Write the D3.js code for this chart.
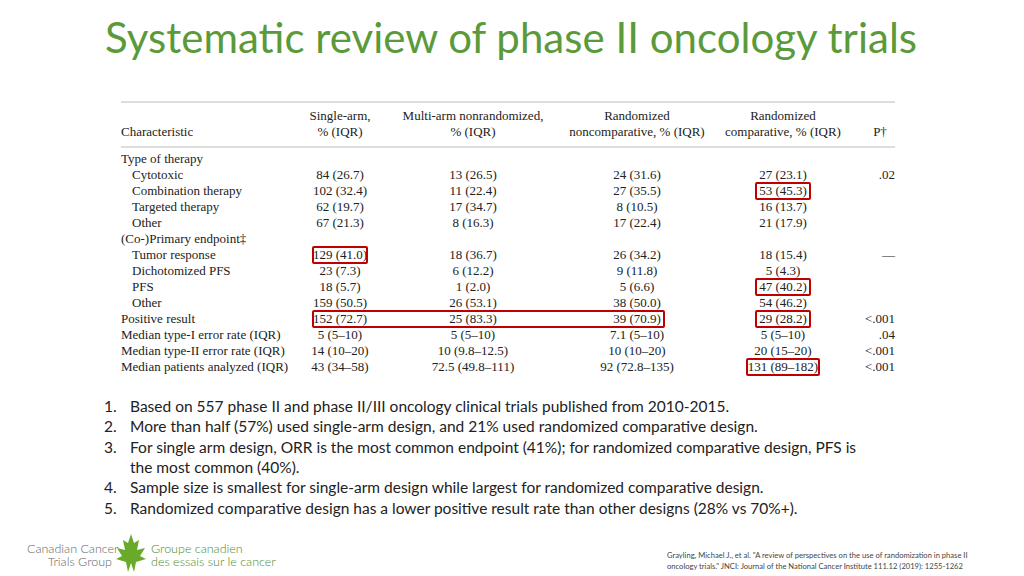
<!DOCTYPE html>
<html lang="en">
<head>
<meta charset="UTF-8">
<title>Systematic review of phase II oncology trials</title>
<style>
  body { margin: 0; background: #fff; }
  svg { display: block; }
  .tbl { font-family: "Liberation Serif", serif; font-size: 13px; fill: #222; }
  .slide { font-family: Lato, "Noto Sans", sans-serif; }
</style>
</head>
<body>
<div id="chart"></div>
<script src="https://d3js.org/d3.v7.min.js"></script>
<script>
// table content
const headers = [
  ["Single-arm,", "% (IQR)"],
  ["Multi-arm nonrandomized,", "% (IQR)"],
  ["Randomized", "noncomparative, % (IQR)"],
  ["Randomized", "comparative, % (IQR)"]
];
const rowLabels = [
  "Type of therapy", "Cytotoxic", "Combination therapy", "Targeted therapy", "Other",
  "(Co-)Primary endpoint‡", "Tumor response", "Dichotomized PFS", "PFS", "Other",
  "Positive result", "Median type-I error rate (IQR)", "Median type-II error rate (IQR)",
  "Median patients analyzed (IQR)"
];
const indented = [false, true, true, true, true, false, true, true, true, true, false, false, false, false];
const singleArm = ["", "84 (26.7)", "102 (32.4)", "62 (19.7)", "67 (21.3)", "", "129 (41.0)", "23 (7.3)", "18 (5.7)", "159 (50.5)", "152 (72.7)", "5 (5–10)", "14 (10–20)", "43 (34–58)"];
const multiArm = ["", "13 (26.5)", "11 (22.4)", "17 (34.7)", "8 (16.3)", "", "18 (36.7)", "6 (12.2)", "1 (2.0)", "26 (53.1)", "25 (83.3)", "5 (5–10)", "10 (9.8–12.5)", "72.5 (49.8–111)"];
const randNoncomp = ["", "24 (31.6)", "27 (35.5)", "8 (10.5)", "17 (22.4)", "", "26 (34.2)", "9 (11.8)", "5 (6.6)", "38 (50.0)", "39 (70.9)", "7.1 (5–10)", "10 (10–20)", "92 (72.8–135)"];
const randComp = ["", "27 (23.1)", "53 (45.3)", "16 (13.7)", "21 (17.9)", "", "18 (15.4)", "5 (4.3)", "47 (40.2)", "54 (46.2)", "29 (28.2)", "5 (5–10)", "20 (15–20)", "131 (89–182)"];
const pValues = ["", ".02", "", "", "", "", "—", "", "", "", "<.001", ".04", "<.001", "<.001"];
// highlighted cells: [row, firstCol, lastCol]
const highlights = [[2, 3, 3], [6, 0, 0], [8, 3, 3], [10, 0, 2], [10, 3, 3], [13, 3, 3]];

const bullets = [
  ["Based on 557 phase II and phase II/III oncology clinical trials published from 2010-2015."],
  ["More than half  (57%) used single-arm design, and 21% used randomized comparative design."],
  ["For single arm design, ORR is the most common endpoint (41%); for randomized comparative design, PFS is", "the most common (40%)."],
  ["Sample size is smallest for single-arm design while largest for randomized comparative design."],
  ["Randomized comparative design has a lower positive result rate than other designs (28% vs 70%+)."]
];

const width = 1024, height = 576;
const svg = d3.select("#chart").append("svg").attr("width", width).attr("height", height);

svg.append("text").attr("class", "slide").attr("x", 105).attr("y", 53)
  .attr("font-size", 42).attr("fill", "#5b9a3b").attr("textLength", 812)
  .text("Systematic review of phase II oncology trials");

// table
const y = d3.scalePoint().domain(d3.range(rowLabels.length)).range([159, 367]);
const x = d3.scaleOrdinal().domain([0, 1, 2, 3]).range([340, 473, 637, 783]);
const cols = [singleArm, multiArm, randNoncomp, randComp];

const t = svg.append("g").attr("class", "tbl");
t.append("line").attr("x1", 121).attr("x2", 895).attr("y1", 102).attr("y2", 102).attr("stroke", "#bbb");
t.append("line").attr("x1", 121).attr("x2", 895).attr("y1", 147).attr("y2", 147).attr("stroke", "#bbb");

t.append("text").attr("x", 121).attr("y", 136).text("Characteristic");
headers.forEach((h, i) => {
  h.forEach((s, j) => t.append("text").attr("x", x(i)).attr("y", 120 + j * 16)
    .attr("text-anchor", "middle").text(s));
});
t.append("text").attr("x", 880).attr("y", 136).attr("text-anchor", "middle").text("P†");

t.selectAll(".lbl").data(rowLabels).join("text")
  .attr("x", (d, i) => indented[i] ? 132 : 121)
  .attr("y", (d, i) => y(i) + 4).text(d => d);

cols.forEach((col, c) => {
  t.selectAll(".c" + c).data(col).join("text")
    .attr("x", x(c)).attr("y", (d, i) => y(i) + 4)
    .attr("text-anchor", "middle").text(d => d);
});
t.selectAll(".p").data(pValues).join("text")
  .attr("x", 895).attr("y", (d, i) => y(i) + 4)
  .attr("text-anchor", "end").text(d => d);

const pad = d => d[0] === 13 ? 36 : 27;
svg.append("g").selectAll("rect").data(highlights).join("rect")
  .attr("x", d => x(d[1]) - pad(d))
  .attr("width", d => x(d[2]) - x(d[1]) + 2 * pad(d))
  .attr("y", d => y(d[0]) - 8).attr("height", 16)
  .attr("fill", "none").attr("stroke", "#c00000").attr("stroke-width", 2).attr("rx", 1);

// bullets
const b = svg.append("g").attr("class", "slide").attr("font-size", 15.5).attr("fill", "#222");
let line = 0;
bullets.forEach((lines, i) => {
  b.append("text").attr("x", 104).attr("y", 412 + line * 20.3).text((i + 1) + ".");
  lines.forEach(s => {
    b.append("text").attr("x", 130).attr("y", 412 + line * 20.3).text(s);
    line++;
  });
});

// logo
const logo = svg.append("g").attr("class", "slide").attr("font-weight", 300);
logo.append("text").attr("x", 27).attr("y", 553).attr("font-size", 12.5).attr("fill", "#666").text("Canadian Cancer");
logo.append("text").attr("x", 112).attr("y", 566).attr("font-size", 12.5).attr("fill", "#666").attr("text-anchor", "end").text("Trials Group");
logo.append("text").attr("x", 151).attr("y", 553).attr("font-size", 12.5).attr("fill", "#4a8a2a").text("Groupe canadien");
logo.append("text").attr("x", 151).attr("y", 566).attr("font-size", 12.5).attr("fill", "#4a8a2a").text("des essais sur le cancer");
logo.append("path")
  .attr("d", "M131,534 L134,543 L139,540 L137,550 L145,548 L140,556 L146,559 L136,562 L134,572 L131,563 L128,572 L126,562 L116,559 L122,556 L117,548 L125,550 L123,540 L128,543 Z")
  .attr("fill", "#6aaa2a");

// citation
const cite = svg.append("g").attr("class", "slide").attr("font-size", 7.6).attr("fill", "#444");
cite.append("text").attr("x", 667).attr("y", 558).text("Grayling, Michael J., et al. \"A review of perspectives on the use of randomization in phase II");
cite.append("text").attr("x", 667).attr("y", 569).text("oncology trials.\" JNCI: Journal of the National Cancer Institute 111.12 (2019): 1255-1262");
</script>
</body>
</html>
